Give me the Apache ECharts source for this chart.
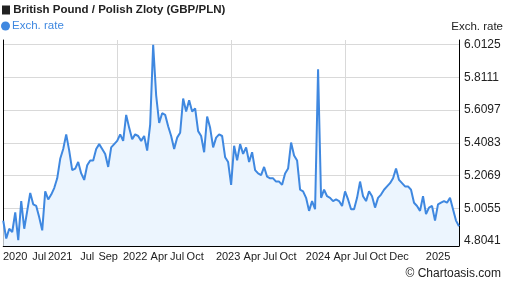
<!DOCTYPE html>
<html>
<head>
<meta charset="utf-8">
<script src="https://cdn.jsdelivr.net/npm/echarts@6/dist/echarts.min.js"></script>
<style>
html,body{margin:0;padding:0;background:#fff}
#chart{width:507px;height:288px}
</style>
</head>
<body>
<div id="chart"></div>
<script>
// GBP/PLN
var rates = [
    4.93, 4.82, 4.88, 4.86, 4.98, 4.81, 5.05, 4.88, 4.99, 5.10,
    5.03, 5.02, 4.95, 4.87, 5.11, 5.06, 5.09, 5.13, 5.19, 5.31,
    5.37, 5.46, 5.36, 5.24, 5.25, 5.29, 5.22, 5.18, 5.27, 5.30,
    5.30, 5.37, 5.40, 5.37, 5.34, 5.26, 5.38, 5.40, 5.42, 5.46,
    5.42, 5.58, 5.50, 5.43, 5.46, 5.45, 5.42, 5.45, 5.36, 5.52,
    6.01, 5.70, 5.53, 5.59, 5.58, 5.51, 5.45, 5.37, 5.44, 5.47,
    5.68, 5.60, 5.67, 5.60, 5.62, 5.48, 5.45, 5.35, 5.57, 5.50,
    5.38, 5.44, 5.46, 5.45, 5.32, 5.29, 5.15, 5.39, 5.30, 5.40,
    5.34, 5.38, 5.29, 5.35, 5.24, 5.22, 5.21, 5.26, 5.20, 5.19,
    5.19, 5.17, 5.17, 5.15, 5.22, 5.25, 5.41, 5.33, 5.30, 5.12,
    5.11, 5.07, 4.99, 5.05, 5.00, 5.86, 5.07, 5.12, 5.08, 5.07,
    5.05, 5.06, 5.05, 5.02, 5.11, 5.06, 5.00, 5.00, 5.07, 5.17,
    5.08, 5.05, 5.11, 5.08, 5.01, 5.07, 5.09, 5.12, 5.14, 5.16,
    5.19, 5.25, 5.18, 5.16, 5.14, 5.14, 5.12, 5.04, 5.02, 4.99,
    5.08, 4.97, 5.01, 5.02, 4.93, 5.03, 5.04, 5.05, 5.04, 5.07,
    5.00, 4.93, 4.895
];
var tickLabels = ['2020','Jul','2021','Jul','Sep','2022','Apr','Jul','Oct','2023',
                  'Apr','Jul','Oct','2024','Apr','Jul','Oct','Dec','2025'];
// data point each date label sits under
var tickIndex = [4,12,19,28,35,44,52,58,64,75,83,89,95,105,113,119,125,132,145];
var yTicks = [4.8041, 5.0055, 5.2069, 5.4083, 5.6097, 5.8111, 6.0125];
var yMin = 4.774, yMax = 6.040;

var cats = [], labelAt = {};
for (var i = 0; i < tickIndex.length; i++) labelAt[tickIndex[i]] = tickLabels[i];
for (var i = 0; i < rates.length; i++) cats.push(labelAt[i] || '');
var last = rates.length - 1;
var gridAt = [1, 2, 3].map(function (k) { return Math.round(last * k / 4); });

var myChart = echarts.init(document.getElementById('chart'));
var font = 'Liberation Sans, Arial, sans-serif';

var option = {
    animation: false,
    textStyle: { fontFamily: font },
    title: [
        {
            text: '{sq|} British Pound / Polish Zloty (GBP/PLN)',
            left: 2, top: 4, padding: 0,
            textStyle: {
                fontSize: 11.5, fontWeight: 'bold', color: '#222', fontFamily: font,
                rich: { sq: { width: 8, height: 9, backgroundColor: '#222' } }
            }
        },
        {
            text: 'Exch. rate', right: 4, top: 21, padding: 0,
            textStyle: { fontSize: 11.5, fontWeight: 'normal', color: '#222', fontFamily: font }
        },
        {
            text: '\u00a9 Chartoasis.com', right: 6, top: 268, padding: 0,
            textStyle: { fontSize: 12, fontWeight: 'normal', color: '#222', fontFamily: font }
        }
    ],
    legend: {
        left: 1, top: 20, padding: 0,
        icon: 'circle', itemWidth: 9, itemHeight: 9,
        textStyle: { color: '#3f88e0', fontSize: 11.5, fontFamily: font, padding: [0, 0, 0, -3] },
        data: ['Exch. rate']
    },
    grid: { left: 1, right: 48, top: 40, bottom: 42 },
    xAxis: {
        type: 'category',
        boundaryGap: false,
        data: cats,
        axisLine: { lineStyle: { color: '#000', width: 1 } },
        axisTick: { show: false },
        axisLabel: {
            interval: function (index, value) { return value !== ''; },
            color: '#222', fontSize: 11, margin: 5, fontFamily: font
        },
        splitLine: {
            show: true,
            interval: function (index) { return gridAt.indexOf(index) >= 0; },
            lineStyle: { color: '#d9d9d9' }
        }
    },
    yAxis: [
        {
            type: 'value', position: 'right', min: yMin, max: yMax,
            axisLine: { show: true, lineStyle: { color: '#000' } },
            axisTick: { show: false, customValues: yTicks },
            axisLabel: {
                customValues: yTicks, margin: 5, color: '#222', fontSize: 12, fontFamily: font,
                formatter: function (v) { return v.toFixed(4); }
            },
            splitLine: { show: true, lineStyle: { color: '#d9d9d9' } }
        },
        {
            type: 'value', position: 'left', min: yMin, max: yMax,
            axisLine: { show: true, lineStyle: { color: '#000' } },
            axisTick: { show: false }, axisLabel: { show: false }, splitLine: { show: false }
        }
    ],
    series: [
        {
            name: 'Exch. rate',
            type: 'line',
            data: rates,
            symbol: 'none',
            color: '#3f88e0',
            lineStyle: { width: 2, color: '#3f88e0' },
            areaStyle: { color: '#ecf5fe', opacity: 1, origin: 'start' }
        }
    ]
};
myChart.setOption(option);
</script>
</body>
</html>
